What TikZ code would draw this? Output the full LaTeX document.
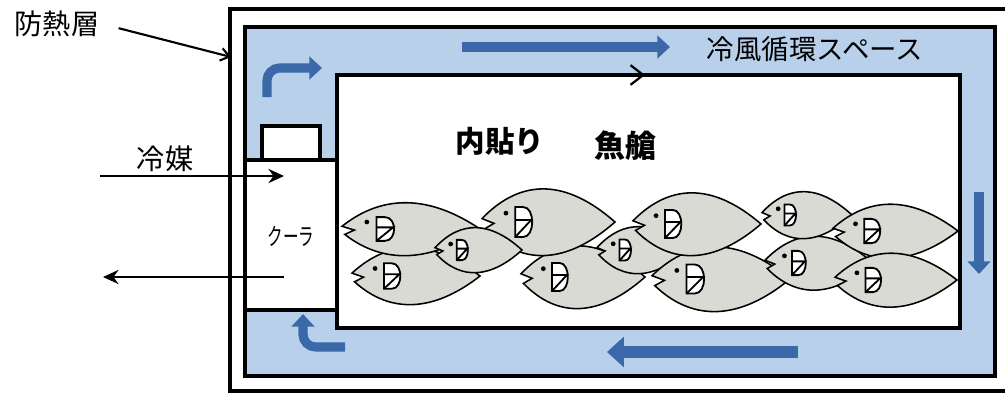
\documentclass[tikz,border=0pt]{standalone}
\usepackage{fontspec}
\setmainfont{Noto Sans CJK JP}
\usetikzlibrary{arrows.meta}
\definecolor{airblue}{RGB}{184,208,234}
\definecolor{flowblue}{RGB}{58,104,168}
\definecolor{fishgray}{RGB}{218,218,212}
\tikzstyle{wall}=[draw=black, line width=2.6pt]
\tikzstyle{flow}=[draw=flowblue, line width=6.5pt, -{Triangle[length=9pt, width=16pt]}]
\tikzstyle{pipe}=[draw=black, line width=1.9pt, -{Stealth[length=11pt, width=10pt]}]
\tikzstyle{callout}=[draw=black, line width=1.5pt, -{Straight Barb[length=6pt, width=9pt]}]
\tikzstyle{fishline}=[draw=black, line width=1.1pt]
\tikzstyle{label}=[inner sep=2pt, font=\fontsize{20}{24}\selectfont]

% #1,#2 = mouth, #3 = length, #4 = height
\newcommand{\drawfish}[4]{%
  \begin{scope}[shift={(#1,#2)}, xscale=#3, yscale=#4]
    \filldraw[fishline, fill=fishgray] (0,-0.05)
      .. controls (0.3,-0.66) and (0.64,-0.62) .. (1,0)
      .. controls (0.64,0.62) and (0.3,0.66) .. (0.02,0.1)
      -- (0.09,0.02) -- cycle;
    \filldraw[fishline, line width=1.3pt, fill=white] (0.25,-0.22) -- (0.31,-0.22)
      .. controls (0.4,-0.22) and (0.4,0.22) .. (0.31,0.22) -- (0.25,0.22) -- cycle;
    \draw[fishline, line width=1.3pt] (0.25,-0.03) -- (0.37,-0.03) -- (0.25,0.22);
  \end{scope}
  \fill ({#1+0.18*#3},{#2-0.13*#4}) circle (1.7pt);
}

\begin{document}
\begin{tikzpicture}[x=0.025cm, y=-0.025cm]
  \useasboundingbox (0,0) rectangle (1005,395);

  % walls
  \draw[wall] (1005,9) -- (230,9) -- (230,391) -- (1005,391);
  \filldraw[wall, fill=airblue] (245,27) rectangle (995,376);
  \filldraw[wall, fill=white] (337,75) rectangle (960,328);
  \filldraw[wall, fill=white] (245,160) rectangle (337,310);
  \filldraw[wall, fill=white] (262,126) rectangle (320,160);

  % cold air flow
  \draw[flow, rounded corners=9pt] (267,97) -- (267,68) -- (322,68);
  \draw[flow] (462,47) -- (670,47);
  \draw[flow] (979,192) -- (979,274);
  \draw[flow, line width=8.5pt, -{Triangle[length=12pt, width=21pt]}] (798,352) -- (607,352);
  \draw[flow, rounded corners=9pt] (345,347) -- (303,347) -- (303,314);
  \draw[line width=1.6pt, -{Straight Barb[length=9pt, width=14pt]}] (600,75) -- (645,75);

  % fish
  \drawfish{352}{276}{128}{58}
  \drawfish{342}{229}{138}{54}
  \drawfish{521}{277}{124}{64}
  \drawfish{482}{222}{133}{68}
  \drawfish{435}{250}{87}{46}
  \drawfish{597}{250}{90}{48}
  \drawfish{652}{279}{138}{66}
  \drawfish{633}{224}{128}{64}
  \drawfish{765}{263}{108}{55}
  \drawfish{762}{215}{90}{48}
  \drawfish{833}{231}{125}{55}
  \drawfish{835}{280}{122}{55}

  % labels
  \node[label] (insul) at (57,24) {防熱層};
  \node[label] (refrig) at (165,159) {冷媒};
  \node[inner sep=1pt, font=\fontsize{17}{20}\selectfont] (cooler) at (291,236) {\scalebox{0.65}[1]{クーラ}};
  \node[label, font=\fontsize{19.5}{24}\selectfont] (space) at (815,49) {冷風循環スペース};
  \node[label, font=\fontsize{21}{24}\selectfont\bfseries] (lining) at (500,141) {内貼り};
  \node[label, font=\fontsize{22}{26}\selectfont\bfseries] (hold) at (625,146) {魚艙};

  \coordinate (insulwall) at (231,57);
  \coordinate (refin) at (100,176);
  \coordinate (coolin) at (284,176);
  \coordinate (coolout) at (284,277);
  \coordinate (refout) at (103,277);

  \draw[callout, shorten <=12pt] (insul.east) -- (insulwall);
  \draw[pipe] (refin) -- (coolin);
  \draw[pipe] (coolout) -- (refout);
\end{tikzpicture}
\end{document}
